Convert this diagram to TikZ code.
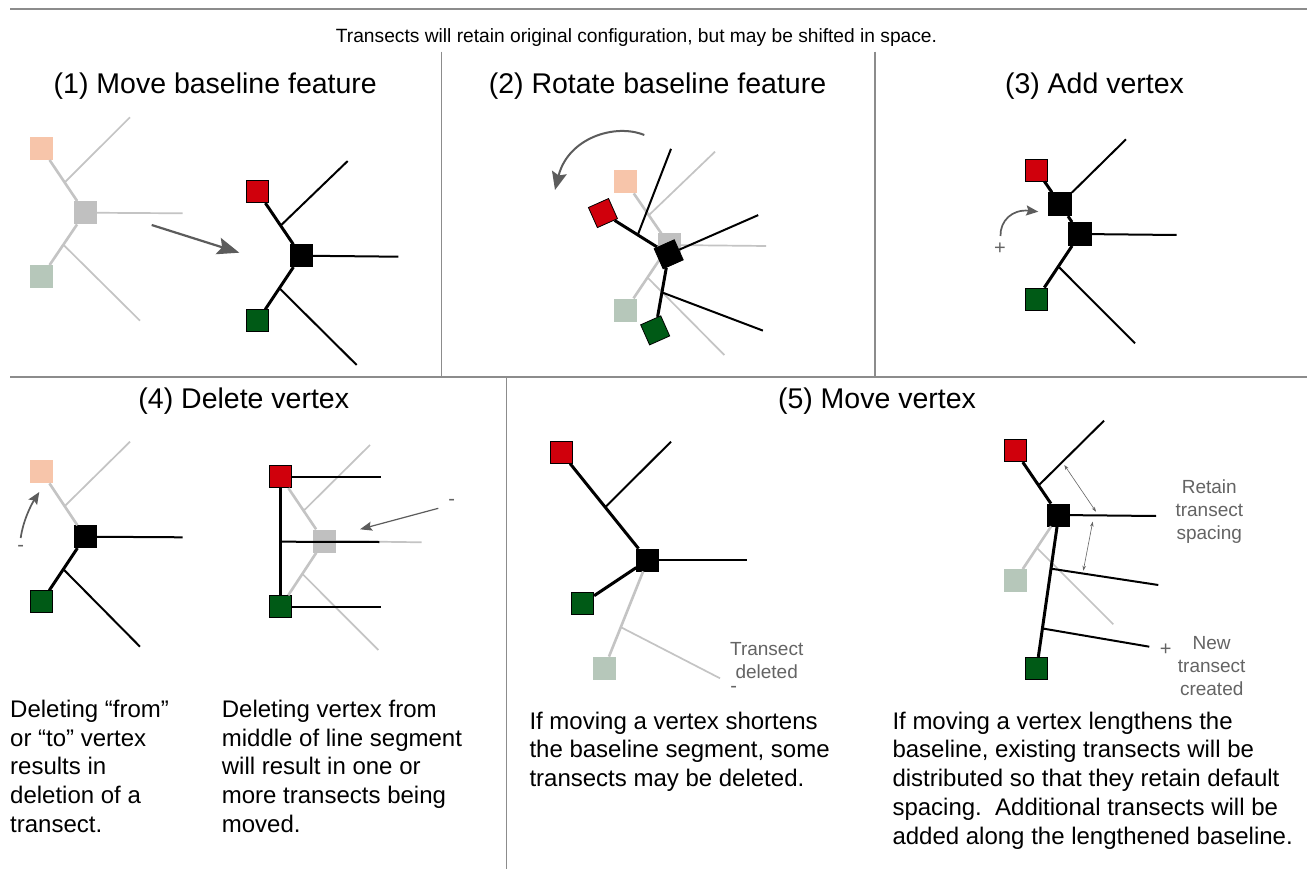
\documentclass[tikz,border=0pt]{standalone}
\usepackage{fontspec}
\setmainfont{Liberation Sans}
\usetikzlibrary{arrows.meta,calc}
\definecolor{vred}{RGB}{208,0,12}
\definecolor{vgreen}{RGB}{0,90,22}
\definecolor{fOrange}{RGB}{247,197,170}
\definecolor{fGray}{RGB}{192,192,192}
\definecolor{fGreen}{RGB}{182,199,186}
\definecolor{fLine}{RGB}{196,196,196}
\definecolor{aGray}{RGB}{92,92,92}
\definecolor{lGray}{RGB}{100,100,100}
\definecolor{sepGray}{RGB}{140,140,140}
\begin{document}
\begin{tikzpicture}[x=1pt,y=-1pt,
  sq/.style={draw=black,line width=0.8pt,minimum size=22pt,inner sep=0pt},
  redsq/.style={sq,fill=vred},
  greensq/.style={sq,fill=vgreen},
  blacksq/.style={sq,fill=black},
  fsq/.style={minimum size=23pt,inner sep=0pt},
  fosq/.style={fsq,fill=fOrange},
  fgsq/.style={fsq,fill=fGray},
  ffsq/.style={fsq,fill=fGreen},
  bline/.style={line width=3pt,black},
  tline/.style={line width=2pt,black},
  fbline/.style={line width=2.6pt,fLine},
  ftline/.style={line width=1.7pt,fLine},
  bigarrow/.style={line width=2.2pt,aGray,-{Stealth[length=22pt,width=17pt,inset=4pt]}},
  curvarrow/.style={line width=2pt,aGray,-{Stealth[length=18pt,width=15pt,inset=3pt]}},
  smallcurv/.style={line width=1.7pt,aGray,-{Stealth[length=12pt,width=10pt,inset=2pt]}},
  thinarrow/.style={line width=1.2pt,aGray,-{Stealth[length=12pt,width=9pt,inset=2pt]}},
  dimarrow/.style={line width=0.6pt,lGray,{Stealth[length=5pt,width=3.5pt]}-{Stealth[length=5pt,width=3.5pt]}},
  sepline/.style={line width=2pt,sepGray},
  vsepline/.style={line width=1.2pt,sepGray},
  titletext/.style={font=\fontsize{28.5}{34}\selectfont,anchor=base,inner sep=0pt},
  subtext/.style={font=\fontsize{19.2}{23}\selectfont,anchor=base,inner sep=0pt},
  bodytext/.style={font=\fontsize{24}{28.8}\selectfont,align=left,anchor=base west,inner sep=0pt},
  glabel/.style={font=\fontsize{19}{23}\selectfont,text=lGray,align=center,inner sep=0pt},
  sign/.style={font=\fontsize{20}{24}\selectfont,text=lGray,inner sep=0pt}
]
\useasboundingbox (0,0) rectangle (1307,869);
\fill[white] (0,0) rectangle (1307,869);

% ---------- separators ----------
\coordinate (topL) at (10,9.3);   \coordinate (topR) at (1307,9.3);
\coordinate (midL) at (10,376.7); \coordinate (midR) at (1307,376.7);
\coordinate (v1a) at (441.7,51.7); \coordinate (v1b) at (441.7,376.7);
\coordinate (v2a) at (875,51.7);   \coordinate (v2b) at (875,376.7);
\coordinate (v3a) at (506.5,376.7); \coordinate (v3b) at (506.5,869);
\draw[sepline] (topL) -- (topR);
\draw[sepline] (midL) -- (midR);
\draw[vsepline] (v1a) -- (v1b);
\draw[vsepline] (v2a) -- (v2b);
\draw[vsepline] (v3a) -- (v3b);

% ---------- titles ----------
\node[subtext] (sub) at (636.5,42.3) {Transects will retain original configuration, but may be shifted in space.};
\node[titletext] (t1) at (215.3,93.3) {(1) Move baseline feature};
\node[titletext] (t2) at (657.5,93.3) {(2) Rotate baseline feature};
\node[titletext] (t3) at (1094.5,93.3) {(3) Add vertex};
\node[titletext] (t4) at (243.8,408.5) {(4) Delete vertex};
\node[titletext] (t5) at (877,408.5) {(5) Move vertex};

% ================= Panel 1 =================
\node[fosq] (p1o) at (41.7,148.3) {};
\node[fgsq] (p1g) at (85,212.7) {};
\node[ffsq] (p1f) at (41.7,276.7) {};
\coordinate (p1fa) at ($(p1o)!0.53!(p1g)$);
\coordinate (p1fae) at (130,117.3);
\coordinate (p1fbe) at (182.7,213.3);
\coordinate (p1fc) at ($(p1g)!0.5!(p1f)$);
\coordinate (p1fce) at (140,320.7);
\draw[fbline] (p1o) -- (p1g);
\draw[fbline] (p1g) -- (p1f);
\draw[ftline] (p1fa) -- (p1fae);
\draw[ftline] (p1g) -- (p1fbe);
\draw[ftline] (p1fc) -- (p1fce);

\coordinate (p1as) at (151.7,225);
\coordinate (p1ae) at (239.3,252.7);
\draw[bigarrow] (p1as) -- (p1ae);

\node[redsq] (p1r) at (257.7,191.7) {};
\node[blacksq] (p1b) at (301,255.7) {};
\node[greensq] (p1k) at (257.7,320.7) {};
\coordinate (p1ta) at ($(p1r)!0.53!(p1b)$);
\coordinate (p1tae) at (347.7,161);
\coordinate (p1tbe) at (398.3,256.7);
\coordinate (p1tc) at ($(p1b)!0.5!(p1k)$);
\coordinate (p1tce) at (356.7,365);
\draw[bline] (p1r) -- (p1b);
\draw[bline] (p1b) -- (p1k);
\draw[tline] (p1ta) -- (p1tae);
\draw[tline] (p1b) -- (p1tbe);
\draw[tline] (p1tc) -- (p1tce);

% ================= Panel 2 =================
\node[fosq] (p2o) at (625.7,181.7) {};
\node[fgsq] (p2g) at (669.3,245) {};
\node[ffsq] (p2f) at (625.7,310) {};
\coordinate (p2fa) at ($(p2o)!0.53!(p2g)$);
\coordinate (p2fae) at (715,151.7);
\coordinate (p2fbe) at (766,246);
\coordinate (p2fc) at ($(p2g)!0.5!(p2f)$);
\coordinate (p2fce) at (724.3,355);
\draw[fbline] (p2o) -- (p2g);
\draw[fbline] (p2g) -- (p2f);
\draw[ftline] (p2fa) -- (p2fae);
\draw[ftline] (p2g) -- (p2fbe);
\draw[ftline] (p2fc) -- (p2fce);

\begin{scope}[shift={(668.7,254.3)},rotate=24]
  \node[redsq,transform shape] (p2r) at (-43.3,-64.4) {};
  \node[blacksq,transform shape] (p2b) at (0,0) {};
  \node[greensq,transform shape] (p2k) at (-43.3,64) {};
  \coordinate (p2ta) at (-20.4,-30.3);
  \coordinate (p2tae) at (45,-95.4);
  \coordinate (p2tbe) at (97.7,0.6);
  \coordinate (p2tc) at (-21.7,32);
  \coordinate (p2tce) at (55,108);
\end{scope}
\draw[bline] (p2r) -- (p2b);
\draw[bline] (p2b) -- (p2k);
\draw[tline] (p2ta) -- (p2tae);
\draw[tline] (p2b) -- (p2tbe);
\draw[tline] (p2tc) -- (p2tce);

\coordinate (p2cs) at (644.3,135);
\coordinate (p2c1) at (615,123);
\coordinate (p2c2) at (568,138);
\coordinate (p2ce) at (555,190);
\draw[curvarrow] (p2cs) .. controls (p2c1) and (p2c2) .. (p2ce);

% ================= Panel 3 =================
\node[redsq] (p3r) at (1036.7,170) {};
\node[blacksq,minimum size=23pt] (p3n) at (1060,204.3) {};
\node[blacksq,minimum size=23pt] (p3b) at (1080,234) {};
\node[greensq] (p3k) at (1036.7,299) {};
\coordinate (p3tae) at (1126,139.3);
\coordinate (p3tbe) at (1176.7,235);
\coordinate (p3tc) at ($(p3b)!0.5!(p3k)$);
\coordinate (p3tce) at (1135,343.3);
\draw[bline] (p3r) -- (p3n);
\draw[bline] (p3n) -- (p3b);
\draw[bline] (p3b) -- (p3k);
\draw[tline] (p3n) -- (p3tae);
\draw[tline] (p3b) -- (p3tbe);
\draw[tline] (p3tc) -- (p3tce);

\coordinate (p3cs) at (1000.5,236);
\coordinate (p3c1) at (1000,221);
\coordinate (p3c2) at (1012,209);
\coordinate (p3ce) at (1038.3,211.7);
\draw[smallcurv] (p3cs) .. controls (p3c1) and (p3c2) .. (p3ce);
\node[sign] (p3plus) at (1000,249) {+};

% ================= Panel 4 (left) =================
\node[fosq] (p4o) at (41.7,471.7) {};
\node[blacksq] (p4b) at (85,536.7) {};
\node[greensq] (p4k) at (41.7,601.7) {};
\coordinate (p4fa) at ($(p4o)!0.53!(p4b)$);
\coordinate (p4fae) at (130,441.7);
\coordinate (p4tbe) at (182.7,537.3);
\coordinate (p4tc) at ($(p4b)!0.5!(p4k)$);
\coordinate (p4tce) at (140,646.7);
\draw[fbline] (p4o) -- (p4b);
\draw[ftline] (p4fa) -- (p4fae);
\draw[bline] (p4b) -- (p4k);
\draw[tline] (p4b) -- (p4tbe);
\draw[tline] (p4tc) -- (p4tce);

\coordinate (p4cs) at (20.7,538);
\coordinate (p4c1) at (23,521);
\coordinate (p4c2) at (31,505);
\coordinate (p4ce) at (39.3,492);
\draw[smallcurv] (p4cs) .. controls (p4c1) and (p4c2) .. (p4ce);
\node[sign] (p4minus) at (20.7,548.3) {-};

% ================= Panel 4 (right) =================
\node[redsq] (p4r) at (280.7,476.7) {};
\node[fgsq] (p4g) at (324,541) {};
\node[greensq] (p4q) at (280.7,606.7) {};
\coordinate (p4gfa) at ($(p4r)!0.53!(p4g)$);
\coordinate (p4gfae) at (370,445);
\coordinate (p4gfbe) at (421.7,542.3);
\coordinate (p4gfc) at ($(p4g)!0.5!(p4q)$);
\coordinate (p4gfce) at (378.3,650);
\draw[fbline] (p4r) -- (p4g);
\draw[fbline] (p4g) -- (p4q);
\draw[ftline] (p4gfa) -- (p4gfae);
\draw[ftline] (p4g) -- (p4gfbe);
\draw[ftline] (p4gfc) -- (p4gfce);
\coordinate (p4rae) at (381,476.7);
\coordinate (p4m) at ($(p4r)!0.5!(p4q)$);
\coordinate (p4mae) at (379.3,542);
\coordinate (p4qae) at (381,606.7);
\draw[bline] (p4r) -- (p4q);
\draw[tline] (p4r) -- (p4rae);
\draw[tline] (p4m) -- (p4mae);
\draw[tline] (p4q) -- (p4qae);

\coordinate (p4as) at (438.3,508.3);
\coordinate (p4ae) at (360,529.3);
\draw[thinarrow] (p4as) -- (p4ae);
\node[sign] (p4minus2) at (451.7,502.7) {-};

% ================= Panel 5 (left) =================
\node[ffsq] (p5f) at (604.3,668.3) {};
\node[redsq] (p5r) at (561,452.3) {};
\node[blacksq] (p5b) at (647.7,560) {};
\node[greensq] (p5k) at (582.7,603.3) {};
\coordinate (p5fa) at ($(p5b)!0.62!(p5f)$);
\coordinate (p5fae) at (720,678.3);
\draw[fbline] (p5b) -- (p5f);
\draw[ftline] (p5fa) -- (p5fae);
\coordinate (p5ta) at ($(p5r)!0.51!(p5b)$);
\coordinate (p5tae) at (671,441.7);
\coordinate (p5tbe) at (746.7,560);
\draw[bline] (p5r) -- (p5b);
\draw[bline] (p5b) -- (p5k);
\draw[tline] (p5ta) -- (p5tae);
\draw[tline] (p5b) -- (p5tbe);
\node[glabel] (p5lab) at (766.7,661) {Transect\\deleted};
\node[sign] (p5minus) at (733.7,689) {-};

% ================= Panel 5 (right) =================
\node[ffsq] (p6f) at (1015,580.7) {};
\node[redsq] (p6r) at (1015,450.7) {};
\node[blacksq] (p6b) at (1058.7,515) {};
\node[greensq] (p6k) at (1036.7,668.3) {};
\coordinate (p6fa) at ($(p6b)!0.5!(p6f)$);
\coordinate (p6fae) at (1113.3,624.3);
\draw[fbline] (p6b) -- (p6f);
\draw[ftline] (p6fa) -- (p6fae);
\coordinate (p6ta) at ($(p6r)!0.54!(p6b)$);
\coordinate (p6tae) at (1104,420.7);
\coordinate (p6tbe) at (1156,516);
\coordinate (p6tc) at ($(p6b)!0.35!(p6k)$);
\coordinate (p6tce) at (1158.3,585);
\coordinate (p6td) at ($(p6b)!0.74!(p6k)$);
\coordinate (p6tde) at (1149.3,646.7);
\draw[bline] (p6r) -- (p6b);
\draw[bline] (p6b) -- (p6k);
\draw[tline] (p6ta) -- (p6tae);
\draw[tline] (p6b) -- (p6tbe);
\draw[tline] (p6tc) -- (p6tce);
\draw[tline] (p6td) -- (p6tde);
\coordinate (p6d1a) at (1064.3,465);
\coordinate (p6d1b) at (1096,511.7);
\coordinate (p6d2a) at (1092.7,521.7);
\coordinate (p6d2b) at (1083.3,570.7);
\draw[dimarrow] (p6d1a) -- (p6d1b);
\draw[dimarrow] (p6d2a) -- (p6d2b);
\node[glabel] (p6lab1) at (1209.3,511.7) {Retain\\transect\\spacing};
\node[sign] (p6plus) at (1165.8,650) {+};
\node[glabel] (p6lab2) at (1211.7,666) {New\\transect\\created};

% ---------- body texts (base anchor = last line's baseline) ----------
\node[bodytext] (b1) at (10,832.5) {Deleting “from”\\or “to” vertex\\results in\\deletion of a\\transect.};
\node[bodytext] (b2) at (221.7,832.5) {Deleting vertex from\\middle of line segment\\will result in one or\\more transects being\\moved.};
\node[bodytext] (b3) at (529.3,786.6) {If moving a vertex shortens\\the baseline segment, some\\transects may be deleted.};
\node[bodytext] (b4) at (892.3,844.2) {If moving a vertex lengthens the\\baseline, existing transects will be\\distributed so that they retain default\\spacing.\ \ Additional transects will be\\added along the lengthened baseline.};
\end{tikzpicture}
\end{document}
